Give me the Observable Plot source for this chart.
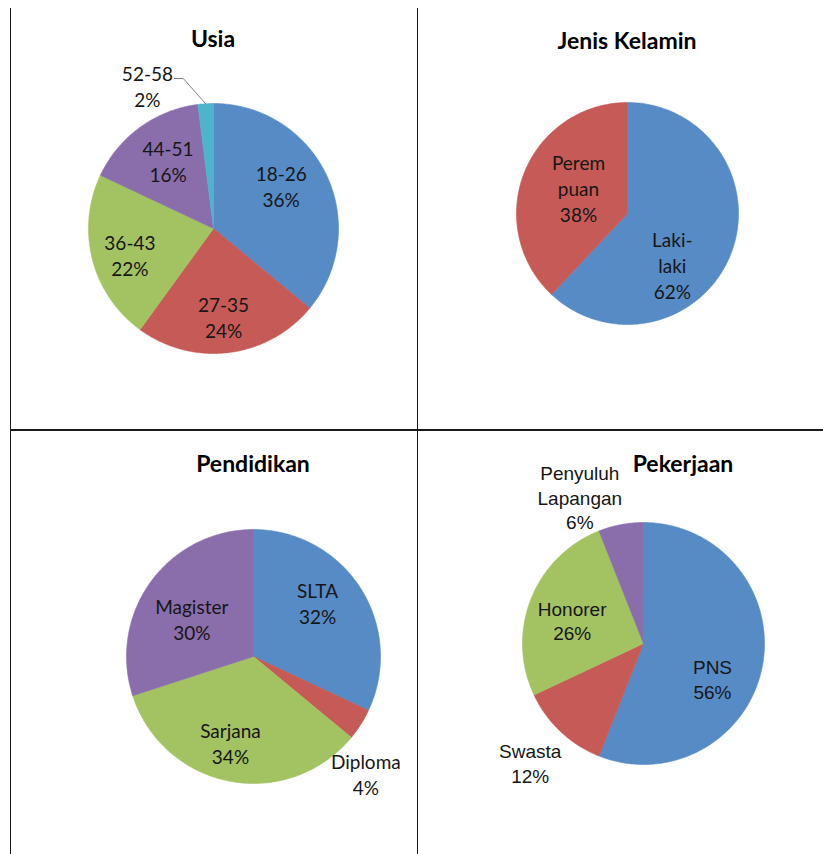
<!DOCTYPE html>
<html><head><meta charset="utf-8">
<script src="https://cdn.jsdelivr.net/npm/d3@7"></script>
<script src="https://cdn.jsdelivr.net/npm/@observablehq/plot@0.6"></script>
<style>
body{margin:0;background:#fff;width:823px;height:854px;position:relative;overflow:hidden;font-family:Lato,"Open Sans",sans-serif}
.cell{position:absolute}
.cell svg{position:absolute;left:0;top:0;overflow:visible}
.title{position:absolute;font-weight:bold;font-size:23px;transform:translate(-50%,-50%);white-space:nowrap;color:#000;font-family:Lato,sans-serif;z-index:2}
.line{position:absolute;background:#1a1a1a}
</style></head><body>
<script>
// ---- data ----
const usiaCategories = ["18-26", "27-35", "36-43", "44-51", "52-58"];
const usiaValues = [36, 24, 22, 16, 2];
const usiaLabelNames = ["18-26", "27-35", "36-43", "44-51", "52-58"];

const kelaminCategories = ["Laki-laki", "Perempuan"];
const kelaminValues = [62, 38];
const kelaminLabelNames = ["Laki-\nlaki", "Perem\npuan"];

const pendidikanCategories = ["SLTA", "Diploma", "Sarjana", "Magister"];
const pendidikanValues = [32, 4, 34, 30];
const pendidikanLabelNames = ["SLTA", "Diploma", "Sarjana", "Magister"];

const pekerjaanCategories = ["PNS", "Swasta", "Honorer", "Penyuluh Lapangan"];
const pekerjaanValues = [56, 12, 26, 6];
const pekerjaanLabelNames = ["PNS", "Swasta", "Honorer", "Penyuluh\nLapangan"];

const titles = ["Usia", "Jenis Kelamin", "Pendidikan", "Pekerjaan"];

// ---- styles / layout ----
const palette = ["#568bc6", "#c65a56", "#a3c262", "#8a6dab", "#4db4cc"];

const lato = "Lato, sans-serif";
const arialLike = "'Liberation Sans', Arial, sans-serif";

const panels = [
  {title: titles[0], cats: usiaCategories, vals: usiaValues, names: usiaLabelNames,
   box: {left: 11, top: 8, w: 406, h: 421}, cx: 202, cy: 220, r: 125, titlePos: [202, 30],
   place: [[0.64, -7], [0.71, 0.7], [0.70, -2.8], [0.65, 2], [1.26, -21.2]],
   leader: {index: 4, dx: 0.215, dy: 0.056, elbow: 0.072},
   font: lato, fontSize: 19, lineHeight: 1.37},
  {title: titles[1], cats: kelaminCategories, vals: kelaminValues, names: kelaminLabelNames,
   box: {left: 418, top: 8, w: 405, h: 421}, cx: 209, cy: 205, r: 111, titlePos: [209, 32],
   place: [[0.61, 27], [0.50, 6.4]],
   font: lato, fontSize: 19, lineHeight: 1.37},
  {title: titles[2], cats: pendidikanCategories, vals: pendidikanValues, names: pendidikanLabelNames,
   box: {left: 11, top: 430, w: 406, h: 424}, cx: 242, cy: 226, r: 127, titlePos: [242, 32.5],
   place: [[0.66, -7.8], [1.28, 13.9], [0.70, 4.2], [0.57, -4.5]],
   font: lato, fontSize: 19, lineHeight: 1.37},
  {title: titles[3], cats: pekerjaanCategories, vals: pekerjaanValues, names: pekerjaanLabelNames,
   box: {left: 418, top: 430, w: 405, h: 424}, cx: 225, cy: 213, r: 121, titlePos: [265, 33],
   place: [[0.64, 16.2], [1.36, 0.3], [0.62, -3.6], [1.32, -12.7]],
   font: arialLike, fontSize: 19, lineHeight: 1.28}
];

// grid lines
const gridLines = [
  {left: 10, top: 8, width: 1, height: 846},
  {left: 417, top: 8, width: 1, height: 846},
  {left: 10, top: 428.5, width: 813, height: 2}
];
gridLines.forEach(g => {
  const d = document.createElement("div");
  d.className = "line";
  Object.assign(d.style, {left: g.left + "px", top: g.top + "px", width: g.width + "px", height: g.height + "px"});
  document.body.appendChild(d);
});

const deg = Math.PI / 180;
function polar(a, k) { return {x: k * Math.sin(a), y: k * Math.cos(a)}; }

panels.forEach(p => {
  const arcs = d3.pie().sort(null).value(d => d)(p.vals);
  const verts = [];
  arcs.forEach((a, i) => {
    const cat = p.cats[i];
    const n = Math.max(2, Math.ceil((a.endAngle - a.startAngle) / deg));
    verts.push({cat, x: 0, y: 0});
    for (let k = 0; k <= n; k++) {
      const t = a.startAngle + (a.endAngle - a.startAngle) * k / n;
      verts.push({cat, ...polar(t, 1)});
    }
    verts.push({cat, x: 0, y: 0});
  });
  const labels = arcs.map((a, i) => {
    const mid = (a.startAngle + a.endAngle) / 2;
    const [k, shift] = p.place[i];
    const pt = polar(mid + shift * deg, k);
    return {cat: p.cats[i], x: pt.x, y: pt.y, text: p.names[i] + "\n" + p.vals[i] + "%", mid};
  });
  const leaderPts = [];
  if (p.leader) {
    const L = labels[p.leader.index];
    const p0 = polar(L.mid, 1.0);
    const p2 = {x: L.x + p.leader.dx, y: L.y + p.leader.dy};
    const p1 = {x: p2.x + p.leader.elbow, y: p2.y};
    leaderPts.push(p0, p1, p2);
  }
  const cell = document.createElement("div");
  cell.className = "cell";
  Object.assign(cell.style, {left: p.box.left + "px", top: p.box.top + "px", width: p.box.w + "px", height: p.box.h + "px"});
  const chart = Plot.plot({
    width: p.box.w, height: p.box.h,
    marginLeft: p.cx - p.r, marginRight: p.box.w - p.cx - p.r,
    marginTop: p.cy - p.r, marginBottom: p.box.h - p.cy - p.r,
    x: {domain: [-1, 1], axis: null},
    y: {domain: [-1, 1], axis: null},
    color: {domain: p.cats, range: palette},
    style: {background: "transparent", overflow: "visible"},
    marks: [
      Plot.line(verts, {x: "x", y: "y", z: "cat", fill: "cat", stroke: "cat", strokeWidth: 0.6}),
      Plot.line(leaderPts, {x: "x", y: "y", stroke: "#7f7f7f", strokeWidth: 1}),
      Plot.text(labels, {x: "x", y: "y", text: "text", fontSize: p.fontSize, lineHeight: p.lineHeight,
        fontFamily: p.font, fill: "#161616"})
    ]
  });
  cell.appendChild(chart);
  const t = document.createElement("div");
  t.className = "title";
  t.textContent = p.title;
  t.style.left = p.titlePos[0] + "px";
  t.style.top = p.titlePos[1] + "px";
  cell.appendChild(t);
  document.body.appendChild(cell);
});
</script>
</body></html>
